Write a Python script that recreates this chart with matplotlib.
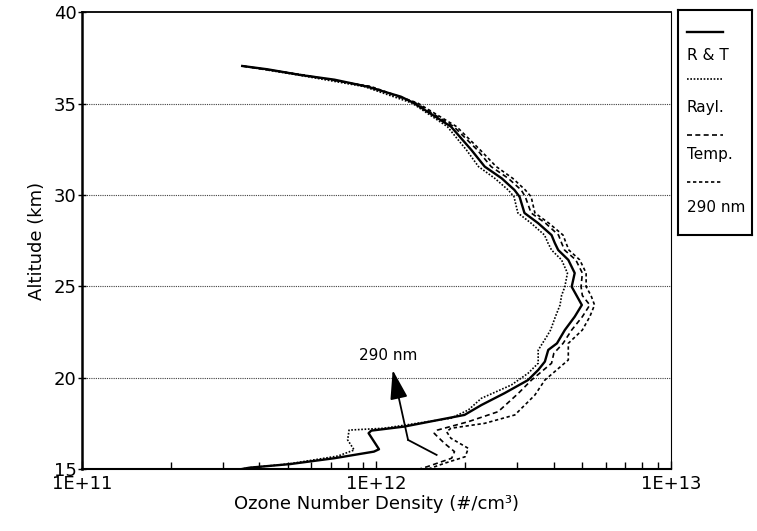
import matplotlib.pyplot as plt
from matplotlib.lines import Line2D

plt.rcParams['font.family'] = ['DejaVu Sans']

# R & T (solid)
alt_rt = [37.07, 36.89, 36.58, 36.32, 35.94, 35.39, 35.04, 33.75, 32.47, 31.56, 30.92, 30.28, 29.91, 29.02,
          28.46, 27.81, 27.38, 26.99, 26.45, 25.73, 24.98, 23.98, 23.34, 22.61, 21.88, 21.52, 20.88, 20.42,
          19.87, 19.15, 18.50, 17.96, 17.32, 17.10, 16.96, 16.08, 15.95, 15.59, 15.27, 15.07, 15.0]
n_rt = [3.5e11, 4.26e11, 5.5e11, 7.2e11, 9.3e11, 1.21e12, 1.34e12, 1.79e12, 2.1e12, 2.33e12, 2.66e12, 2.94e12,
        3.06e12, 3.18e12, 3.54e12, 3.93e12, 4.03e12, 4.14e12, 4.48e12, 4.71e12, 4.6e12, 4.98e12, 4.71e12,
        4.36e12, 4.1e12, 3.83e12, 3.73e12, 3.54e12, 3.27e12, 2.72e12, 2.27e12, 1.99e12, 1.24e12, 9.6e11,
        9.4e11, 1.02e12, 9.8e11, 7.2e11, 5.1e11, 3.7e11, 3.5e11]

# Rayl. (dotted)
alt_ra = [37.07, 36.58, 35.94, 35.04, 33.75, 32.47, 31.56, 30.92, 30.28, 29.91, 29.02, 28.46, 27.81, 27.38,
          26.99, 26.45, 25.73, 24.98, 24.5, 23.98, 23.34, 22.61, 22.24, 21.51, 20.79, 20.24, 19.60, 18.87,
          18.23, 17.78, 17.23, 17.13, 16.59, 16.04, 15.71, 15.27, 15.07, 15.0]
n_ra = [3.5e11, 5.4e11, 9.1e11, 1.32e12, 1.74e12, 2.02e12, 2.22e12, 2.52e12, 2.8e12, 2.93e12, 3.02e12, 3.35e12,
        3.72e12, 3.82e12, 3.93e12, 4.25e12, 4.45e12, 4.36e12, 4.25e12, 4.2e12, 4.05e12, 3.9e12, 3.78e12,
        3.54e12, 3.54e12, 3.27e12, 2.87e12, 2.27e12, 2.05e12, 1.79e12, 1.06e12, 8.07e11, 7.98e11, 8.4e11,
        7.4e11, 5.0e11, 3.7e11, 3.5e11]

# Temp. (dashed)
alt_te = [37.07, 36.58, 35.94, 35.04, 33.75, 32.47, 31.56, 30.92, 30.28, 29.91, 29.02, 28.46, 27.81, 27.38,
          26.99, 26.45, 25.73, 24.98, 24.5, 23.98, 23.34, 22.61, 21.88, 21.33, 20.79, 19.87, 19.14, 18.14,
          17.59, 17.13, 16.95, 16.41, 15.95, 15.59, 15.13, 15.0]
n_te = [3.5e11, 5.6e11, 9.5e11, 1.36e12, 1.83e12, 2.2e12, 2.45e12, 2.8e12, 3.1e12, 3.2e12, 3.35e12, 3.75e12,
        4.15e12, 4.25e12, 4.35e12, 4.75e12, 5.0e12, 4.95e12, 5.0e12, 5.3e12, 5.0e12, 4.6e12, 4.3e12, 4.0e12,
        3.93e12, 3.36e12, 3.03e12, 2.59e12, 2.05e12, 1.61e12, 1.57e12, 1.70e12, 1.84e12, 1.80e12, 1.49e12,
        1.4e12]

# 290 nm (short dashes)
alt_29 = [37.07, 36.58, 35.94, 35.04, 33.75, 32.47, 31.56, 30.92, 30.28, 29.91, 29.02, 28.46, 27.81, 27.38,
          26.99, 26.45, 25.73, 24.98, 24.5, 23.98, 23.34, 22.61, 21.88, 20.97, 19.87, 19.05, 17.96, 17.50,
          17.23, 17.04, 16.68, 16.13, 15.67, 15.31, 15.0]
n_29 = [3.5e11, 5.65e11, 9.6e11, 1.38e12, 1.87e12, 2.25e12, 2.55e12, 2.9e12, 3.2e12, 3.35e12, 3.45e12, 3.85e12,
        4.3e12, 4.4e12, 4.5e12, 4.9e12, 5.15e12, 5.15e12, 5.35e12, 5.5e12, 5.3e12, 5.0e12, 4.48e12, 4.48e12,
        3.73e12, 3.45e12, 2.95e12, 2.33e12, 1.79e12, 1.73e12, 1.79e12, 2.05e12, 2.0e12, 1.70e12, 1.5e12]

legend_labels = ['R & T', 'Rayl.', 'Temp.', '290 nm']
yticks = [15, 20, 25, 30, 35, 40]
xticks = [1e11, 1e12, 1e13]
xtick_labels = ['1E+11', '1E+12', '1E+13']

# arrow callout "290 nm": tail, bend, tip, text
arrow_pts_n = [1.6e12, 1.28e12, 1.135e12]
arrow_pts_alt = [15.77, 16.59, 20.42]
arrow_text_pos = (1.1e12, 21.24)

styles = ['-', (0, (1, 1)), (0, (3, 2)), (0, (2, 1.6))]
widths = [1.7, 1.2, 1.2, 1.2]

fig = plt.figure(figsize=(7.57, 5.31), dpi=100)
ax = fig.add_axes([0.1083, 0.1168, 0.7781, 0.8597])

series = [(n_rt, alt_rt), (n_ra, alt_ra), (n_te, alt_te), (n_29, alt_29)]
for (n, a), ls, lw in zip(series, styles, widths):
    ax.plot(n, a, color='black', linestyle=ls, linewidth=lw)

ax.set_xscale('log')
ax.set_xlim(1e11, 1e13)
ax.set_ylim(15, 40)
ax.set_yticks(yticks)
ax.set_xticks(xticks)
ax.set_xticklabels(xtick_labels)
ax.tick_params(axis='y', direction='inout', length=6, width=1, labelsize=13, pad=1)
ax.tick_params(axis='x', which='major', direction='in', length=6, width=1, labelsize=13, pad=4)
ax.tick_params(axis='x', which='minor', direction='in', length=5, width=1)

for y in yticks[1:-1]:
    ax.axhline(y, color='0.25', linestyle=(0, (1, 1)), linewidth=0.8, zorder=0)

ax.spines['left'].set_linewidth(1.8)
ax.spines['bottom'].set_linewidth(1.5)
ax.spines['top'].set_linewidth(1.3)
ax.spines['right'].set_linewidth(0.8)
ax.spines['right'].set_linestyle((0, (1, 1)))

ax.set_xlabel('Ozone Number Density (#/cm³)', fontsize=13, labelpad=2)
ax.set_ylabel('Altitude (km)', fontsize=13, labelpad=5)

# arrow with label
ax.plot(arrow_pts_n[:2], arrow_pts_alt[:2], color='black', linewidth=1.3)
ax.annotate('', xy=(arrow_pts_n[2], arrow_pts_alt[2]), xytext=(arrow_pts_n[1], arrow_pts_alt[1]),
            arrowprops=dict(arrowstyle='-|>,head_length=1.0,head_width=0.3', color='black',
                            lw=1.3, mutation_scale=18, shrinkA=0, shrinkB=0))
ax.text(arrow_text_pos[0], arrow_text_pos[1], '290 nm', fontsize=11, ha='center', va='center')

# legend box, drawn as its own axes
lax = fig.add_axes([0.8956, 0.5574, 0.0978, 0.4237])
lax.set_xlim(0, 1)
lax.set_ylim(0, 1)
lax.set_xticks([])
lax.set_yticks([])
for sp in lax.spines.values():
    sp.set_linewidth(1.5)
line_y = [0.902, 0.693, 0.444, 0.236]
text_y = [0.80, 0.569, 0.356, 0.124]
for ly, ty, lab, ls, lw in zip(line_y, text_y, legend_labels, styles, widths):
    lax.add_line(Line2D([0.12, 0.61], [ly, ly], color='black', linestyle=ls, linewidth=lw))
    lax.text(0.12, ty, lab, fontsize=11, ha='left', va='center')

fig.savefig('out.png', dpi=100)
